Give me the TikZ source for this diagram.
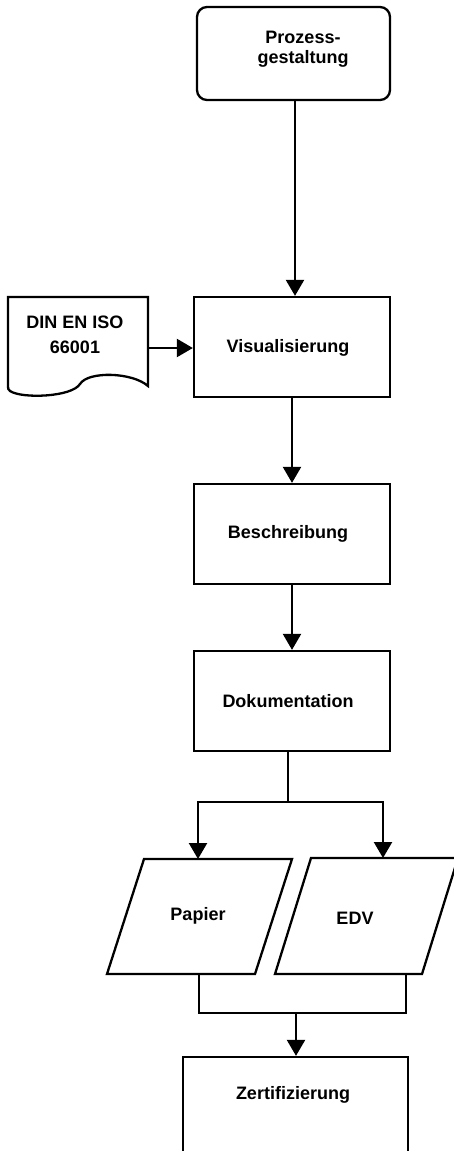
\documentclass[tikz,border=0pt]{standalone}
\usepackage{fontspec}
\setmainfont{Liberation Sans}
\usetikzlibrary{arrows.meta}
\begin{document}
\begin{tikzpicture}[x=1pt,y=-1pt,
  line width=2.3pt,
  lbl/.style={font=\bfseries\fontsize{18}{20.5}\selectfont, align=center, inner sep=0pt},
  stepbox/.style={draw, rectangle, minimum width=196pt, minimum height=100pt, inner sep=0pt},
  flow/.style={-{Triangle[width=18pt,length=16pt]}},
  ]
\useasboundingbox (0,0) rectangle (453,1151);

% start: process design (rounded box)
\node[draw, rounded corners=10pt, minimum width=193pt, minimum height=93pt] (proz) at (293.5,53.5) {};
\node[lbl] (prozt) at (303,49) {Prozess-\\gestaltung};

% main chain of process steps
\node[stepbox] (visu) at (292,347) {};
\node[lbl] (visut) at (288,348) {Visualisierung};
\node[stepbox] (besch) at (292,534) {};
\node[lbl] (bescht) at (288,534) {Beschreibung};
\node[stepbox] (doku) at (292,701) {};
\node[lbl] (dokut) at (288,701) {Dokumentation};

% standard document with wavy lower edge
\draw (8,297) -- (148,297) -- (148,386)
  .. controls (132,372) and (88,371) .. (80,384)
  .. controls (72,397) and (22,399) .. (10,391)
  .. controls (8,389) .. (8,386) -- cycle;
\node[lbl, font=\bfseries\fontsize{18}{25}\selectfont] (din) at (75,335) {DIN EN ISO\\66001};
\coordinate (dinout) at (148,348);

% storage media (parallelograms)
\draw (144,859) -- (292,859) -- (255,974) -- (107,974) -- cycle;
\node[lbl] (papier) at (198,916) {Papier};
\draw (311,858) -- (458,858) -- (422,974) -- (275,974) -- cycle;
\node[lbl] (edv) at (355,918) {EDV};
\coordinate (papin) at (198,859);
\coordinate (edvin) at (383,858);
\coordinate (papout) at (199,974);
\coordinate (edvout) at (406,974);

% certification (runs past the lower edge)
\node[draw, rectangle, minimum width=225pt, minimum height=113pt, inner sep=0pt] (zert) at (295.5,1113.5) {};
\node[lbl] (zertt) at (293,1095) {Zertifizierung};

% connectors
\draw[flow] ([xshift=1.5pt]proz.south) -- ([xshift=1.5pt]proz.south |- visu.north);
\draw[flow] (dinout) -- (dinout -| visu.west);
\draw[flow] (visu.south) -- (besch.north);
\draw[flow] (besch.south) -- (doku.north);

\coordinate (split) at (288,802);
\draw (split |- doku.south) -- (split);
\draw[flow] (split) -| (papin);
\draw[flow] (split) -| (edvin);

\coordinate (merge) at (296,1013);
\draw (papout) |- (merge) -| (edvout);
\draw[flow] (merge) -- (merge |- zert.north);
\end{tikzpicture}
\end{document}
